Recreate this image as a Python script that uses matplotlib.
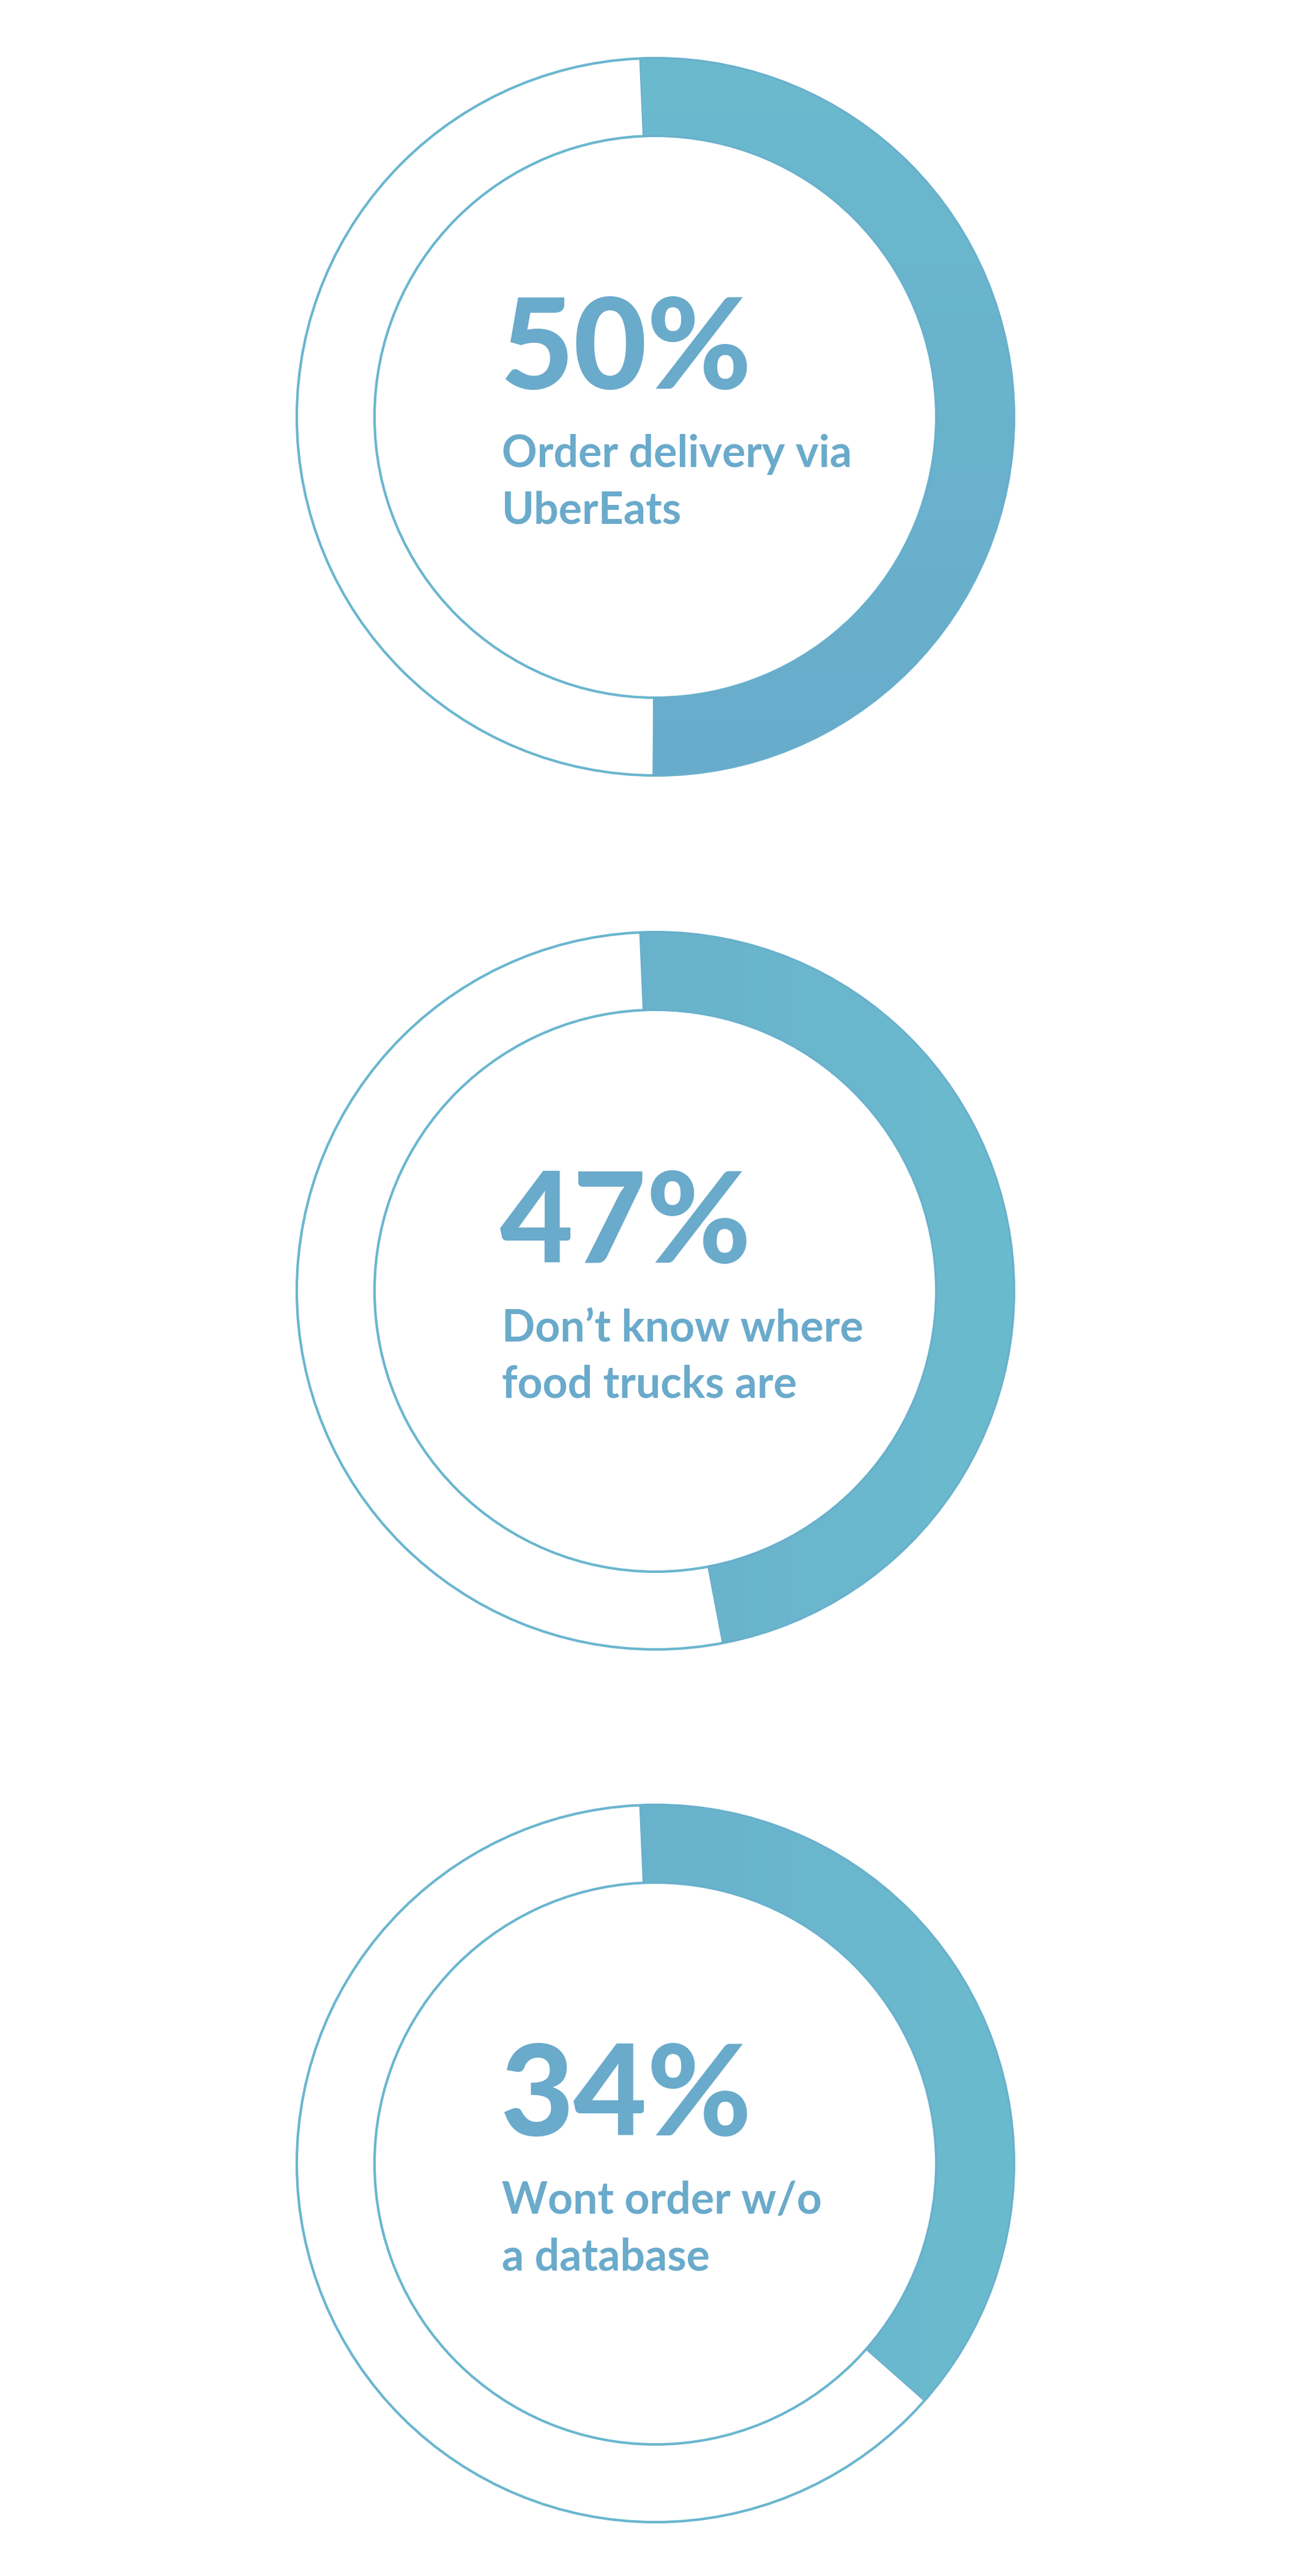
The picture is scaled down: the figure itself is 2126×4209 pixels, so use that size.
import numpy as np
import matplotlib
matplotlib.use("Agg")
import matplotlib.pyplot as plt
from matplotlib.patches import Wedge, Circle

# ---- data ----
pct_labels = ["50%", "47%", "34%"]
descriptions = ["Order delivery via\nUberEats",
                "Don\u2019t know where\nfood trucks are",
                "Wont order w/o\na database"]
# share of the ring that is filled (percent)
arc_share = [50.8, 47.7, 37.2]

# ---- layout / style ----
W, H = 2126, 4209
DPI = 100
centers_from_top = [681, 2109, 3535]
cx = 1071
R_out, R_in = 586, 459
start_offset = 2.5  # degrees counter-clockwise from 12 o'clock
text_col = "#6AAACB"
ring_col = "#6AB6CF"
grad_pairs = [(("#6BBACE", "#68ACCB"), "v"),
              (("#68ABCB", "#6BBBCE"), "h"),
              (("#68ABCB", "#6BBBCE"), "h")]

fig = plt.figure(figsize=(W / DPI, H / DPI), dpi=DPI)
ax = fig.add_axes([0, 0, 1, 1])
ax.set_xlim(0, W)
ax.set_ylim(0, H)
ax.set_aspect("equal")
ax.axis("off")

def hex2rgb(h):
    return np.array(matplotlib.colors.to_rgb(h))

for i, (lab, desc, share) in enumerate(zip(pct_labels, descriptions, arc_share)):
    cy = H - centers_from_top[i]
    th2 = 90 + start_offset
    th1 = th2 - 360 * share / 100.0
    wedge = Wedge((cx, cy), R_out, th1, th2, width=R_out - R_in,
                  facecolor="none", edgecolor="#6AACCB", linewidth=1.2, zorder=3)
    ax.add_patch(wedge)
    (c0, c1), direction = grad_pairs[i]
    a, b = hex2rgb(c0), hex2rgb(c1)
    t = np.linspace(0, 1, 256)
    if direction == "v":
        img = (a[None, :] * (1 - t)[:, None] + b[None, :] * t[:, None])[:, None, :]
        img = np.repeat(img, 4, axis=1)
    else:
        img = (a[None, :] * (1 - t)[:, None] + b[None, :] * t[:, None])[None, :, :]
        img = np.repeat(img, 4, axis=0)
    im = ax.imshow(img, extent=(cx - R_out, cx + R_out, cy - R_out, cy + R_out),
                   origin="upper", interpolation="bilinear", zorder=2, aspect="auto")
    clip = Wedge((cx, cy), R_out, th1, th2, width=R_out - R_in, transform=ax.transData)
    im.set_clip_path(clip)
    for r in (R_out, R_in):
        ax.add_patch(Circle((cx, cy), r, facecolor="none", edgecolor=ring_col,
                            linewidth=3.0, zorder=1))
    ax.text(cx - 254, cy + 46, lab, fontsize=149, fontweight="black",
            family=["Lato", "DejaVu Sans"], color=text_col, ha="left", va="baseline")
    lines = desc.split("\n")
    for j, ln in enumerate(lines):
        ax.text(cx - 251, cy - 82 - 92 * j, ln, fontsize=51.5, fontweight="bold",
                family=["Lato", "DejaVu Sans"], color=text_col, ha="left", va="baseline")

ax.set_xlim(0, W)
ax.set_ylim(0, H)
fig.savefig("out.png", dpi=DPI, facecolor="white")
